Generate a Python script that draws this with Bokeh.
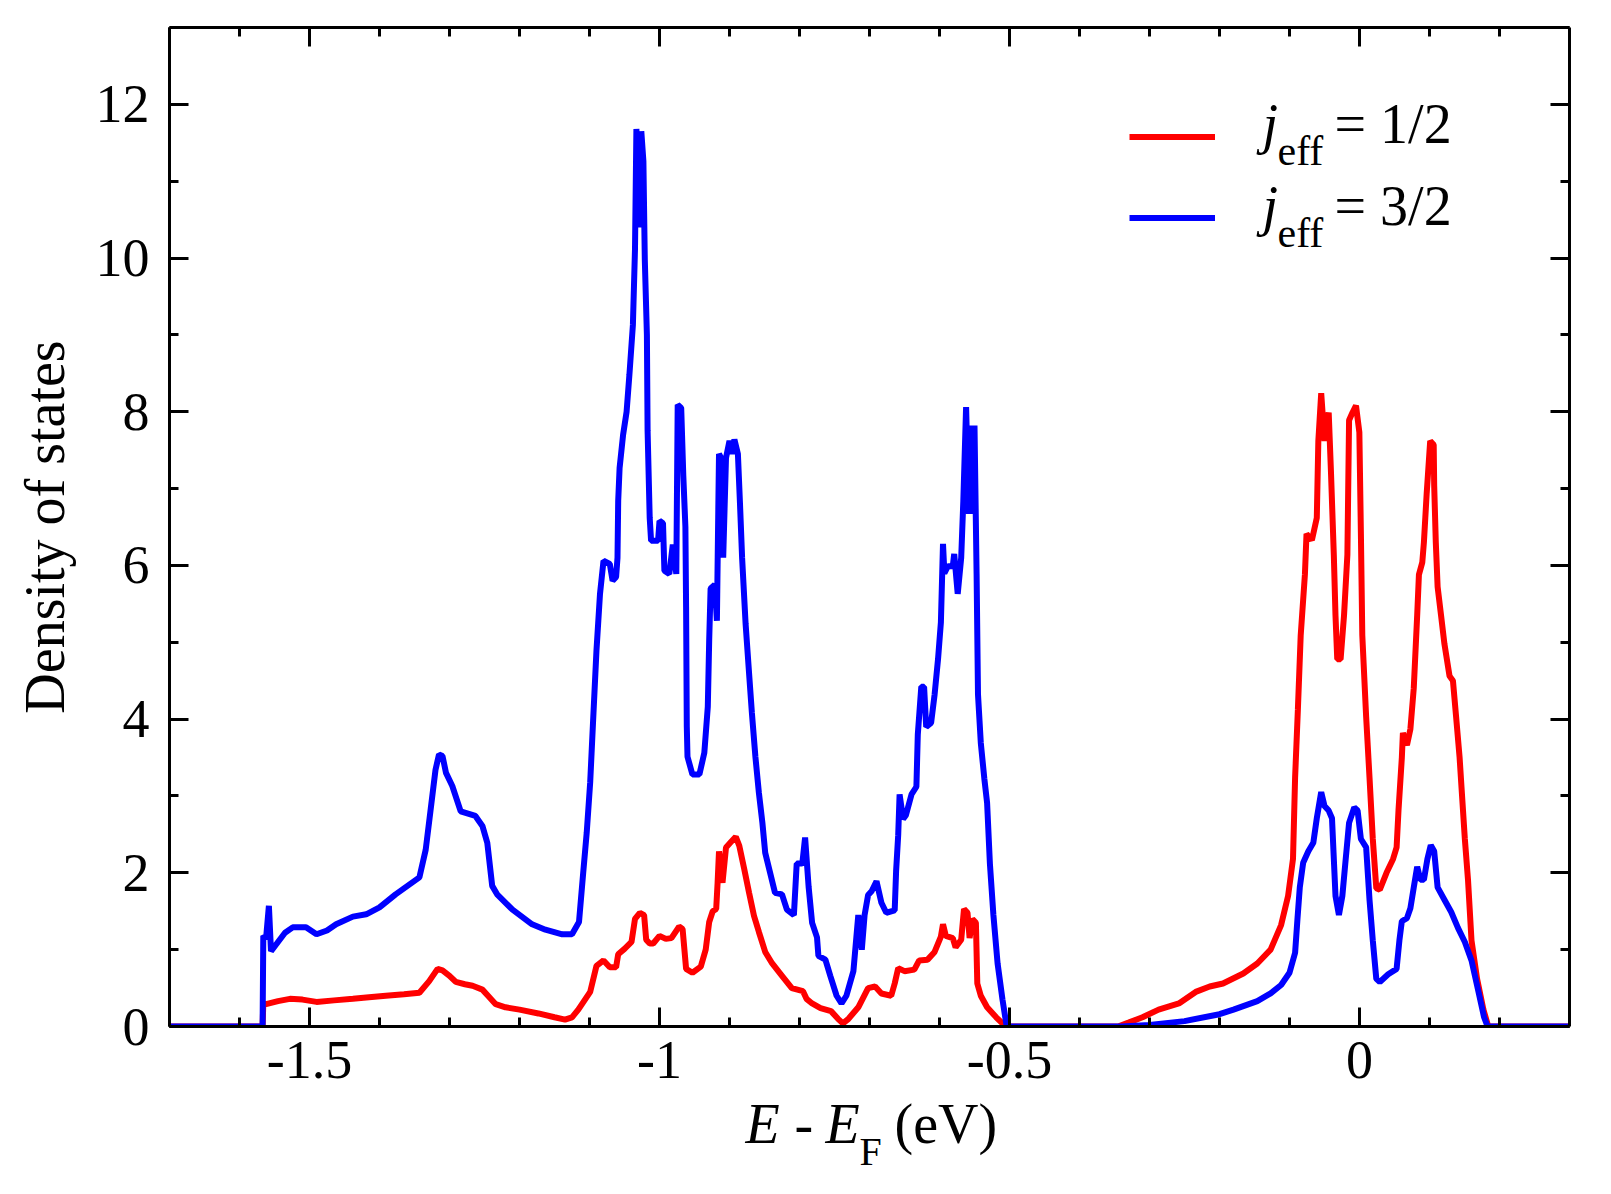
from bokeh.plotting import figure
from bokeh.models import (Range1d, LinearAxis, SingleIntervalTicker, Legend, LegendItem, Label)
from bokeh.core.properties import value
from bokeh.embed import file_html
from bokeh.resources import INLINE

# ---------------- data ----------------
energy_half = [-1.70, -1.567, -1.566, -1.562, -1.545, -1.528, -1.51, -1.49, -1.465, -1.438,
               -1.415, -1.391, -1.365, -1.343, -1.329, -1.317, -1.310, -1.300, -1.291, -1.278,
               -1.267, -1.253, -1.245, -1.234, -1.22, -1.20, -1.173, -1.15, -1.135, -1.125,
               -1.116, -1.099, -1.090, -1.080, -1.071, -1.062, -1.059, -1.050, -1.040, -1.035,
               -1.028, -1.022, -1.019, -1.014, -1.009, -1.000, -0.991, -0.983, -0.972, -0.967,
               -0.962, -0.953, -0.941, -0.934, -0.929, -0.924, -0.919, -0.917, -0.915, -0.910,
               -0.905, -0.898, -0.891, -0.886, -0.879, -0.872, -0.865, -0.858, -0.849, -0.839,
               -0.825, -0.811, -0.795, -0.790, -0.782, -0.770, -0.755, -0.745, -0.738, -0.730,
               -0.716, -0.702, -0.692, -0.683, -0.669, -0.664, -0.659, -0.650, -0.636, -0.629,
               -0.617, -0.607, -0.598, -0.595, -0.591, -0.581, -0.577, -0.569, -0.565, -0.560,
               -0.557, -0.553, -0.548, -0.546, -0.541, -0.532, -0.519, -0.509, -0.504, -0.345,
               -0.330, -0.310, -0.287, -0.258, -0.234, -0.214, -0.195, -0.166, -0.146, -0.127,
               -0.112, -0.102, -0.095, -0.092, -0.088, -0.084, -0.078, -0.0757, -0.068, -0.061,
               -0.0588, -0.0547, -0.050, -0.044, -0.0407, -0.0367, -0.0343, -0.0318, -0.027, -0.0221,
               -0.0173, -0.0149, -0.010, -0.005, -0.0002, 0.002, 0.004, 0.0095, 0.0143, 0.019,
               0.024, 0.029, 0.0386, 0.048, 0.053, 0.0557, 0.0605, 0.062, 0.0678, 0.0727,
               0.0775, 0.0824, 0.0849, 0.0897, 0.092, 0.096, 0.101, 0.106, 0.1067, 0.109,
               0.1116, 0.1165, 0.1213, 0.1286, 0.1335, 0.138, 0.143, 0.1456, 0.1505, 0.155,
               0.160, 0.168, 0.177, 0.184, 0.30]
dos_half = [0.0, 0.0, 0.30, 0.29, 0.33, 0.36, 0.35, 0.32, 0.34, 0.36,
            0.38, 0.40, 0.42, 0.44, 0.59, 0.75, 0.73, 0.66, 0.58, 0.55,
            0.53, 0.48, 0.40, 0.29, 0.25, 0.22, 0.17, 0.12, 0.09, 0.12,
            0.22, 0.45, 0.79, 0.86, 0.77, 0.77, 0.94, 1.01, 1.10, 1.40,
            1.48, 1.45, 1.13, 1.08, 1.08, 1.18, 1.14, 1.15, 1.30, 1.27,
            0.75, 0.70, 0.78, 1.00, 1.36, 1.50, 1.53, 1.87, 2.28, 1.87,
            2.33, 2.40, 2.47, 2.35, 2.05, 1.74, 1.44, 1.23, 0.97, 0.82,
            0.66, 0.50, 0.46, 0.36, 0.30, 0.24, 0.20, 0.10, 0.04, 0.10,
            0.25, 0.50, 0.52, 0.43, 0.40, 0.56, 0.76, 0.72, 0.74, 0.86,
            0.87, 0.97, 1.17, 1.33, 1.18, 1.15, 1.03, 1.13, 1.53, 1.48,
            1.15, 1.40, 1.35, 0.56, 0.40, 0.25, 0.12, 0.03, 0.0, 0.0,
            0.05, 0.12, 0.22, 0.30, 0.45, 0.52, 0.56, 0.69, 0.82, 1.00,
            1.32, 1.70, 2.18, 3.24, 4.13, 5.09, 5.88, 6.41, 6.33, 6.62,
            7.62, 8.24, 7.62, 7.99, 7.20, 6.14, 5.35, 4.78, 4.78, 5.35,
            6.14, 7.89, 7.99, 8.08, 7.73, 6.41, 5.09, 4.03, 3.24, 2.44,
            1.80, 1.78, 2.00, 2.18, 2.33, 2.81, 3.50, 3.82, 3.66, 3.87,
            4.40, 5.35, 5.88, 6.04, 6.30, 6.94, 7.62, 7.57, 7.04, 6.30,
            5.72, 5.35, 4.98, 4.56, 4.50, 4.03, 3.50, 3.13, 2.44, 1.91,
            1.12, 0.62, 0.22, 0.0, 0.0]

energy_three = [-1.70, -1.567, -1.566, -1.562, -1.558, -1.555, -1.545, -1.535, -1.524, -1.505,
                -1.49, -1.475, -1.462, -1.438, -1.419, -1.40, -1.377, -1.343, -1.334, -1.327,
                -1.32, -1.315, -1.310, -1.305, -1.296, -1.284, -1.263, -1.253, -1.246, -1.239,
                -1.232, -1.21, -1.182, -1.163, -1.139, -1.125, -1.115, -1.109, -1.104, -1.099,
                -1.095, -1.090, -1.085, -1.080, -1.071, -1.067, -1.062, -1.060, -1.059, -1.057,
                -1.052, -1.047, -1.043, -1.038, -1.035, -1.033, -1.029, -1.026, -1.023, -1.021,
                -1.018, -1.017, -1.014, -1.012, -1.002, -1.000, -0.995, -0.993, -0.986, -0.981,
                -0.976, -0.974, -0.969, -0.966, -0.963, -0.962, -0.961, -0.960, -0.953, -0.943,
                -0.936, -0.931, -0.929, -0.927, -0.921, -0.918, -0.915, -0.912, -0.909, -0.905,
                -0.900, -0.896, -0.893, -0.888, -0.885, -0.882, -0.877, -0.872, -0.868, -0.863,
                -0.858, -0.853, -0.849, -0.842, -0.835, -0.825, -0.818, -0.808, -0.804, -0.796,
                -0.792, -0.787, -0.782, -0.775, -0.773, -0.763, -0.756, -0.747, -0.740, -0.733,
                -0.723, -0.716, -0.711, -0.707, -0.702, -0.697, -0.690, -0.683, -0.676, -0.664,
                -0.662, -0.659, -0.657, -0.652, -0.648, -0.640, -0.633, -0.631, -0.626, -0.622,
                -0.619, -0.612, -0.607, -0.602, -0.598, -0.595, -0.593, -0.588, -0.581, -0.579,
                -0.574, -0.569, -0.566, -0.562, -0.558, -0.555, -0.551, -0.550, -0.547, -0.545,
                -0.541, -0.536, -0.532, -0.528, -0.523, -0.517, -0.510, -0.504, -0.340, -0.300,
                -0.250, -0.200, -0.180, -0.146, -0.127, -0.112, -0.100, -0.092, -0.0887, -0.0853,
                -0.0805, -0.0731, -0.066, -0.061, -0.0547, -0.050, -0.044, -0.0393, -0.0343, -0.0294,
                -0.0245, -0.0197, -0.0149, -0.0075, -0.0027, 0.002, 0.0095, 0.0143, 0.019, 0.024,
                0.029, 0.041, 0.053, 0.057, 0.0605, 0.0678, 0.0727, 0.0775, 0.0824, 0.087,
                0.092, 0.097, 0.1018, 0.1067, 0.1116, 0.1213, 0.131, 0.1408, 0.1505, 0.160,
                0.170, 0.178, 0.183, 0.30]
dos_three = [0.0, 0.0, 1.18, 1.15, 1.57, 0.98, 1.10, 1.22, 1.29, 1.29,
             1.20, 1.25, 1.33, 1.43, 1.46, 1.55, 1.72, 1.94, 2.30, 2.82,
             3.34, 3.54, 3.52, 3.30, 3.13, 2.80, 2.74, 2.61, 2.39, 1.83,
             1.72, 1.52, 1.33, 1.26, 1.20, 1.20, 1.36, 2.00, 2.52, 3.18,
             3.95, 4.90, 5.63, 6.06, 6.02, 5.80, 5.85, 6.10, 6.84, 7.27,
             7.70, 8.00, 8.48, 9.13, 10.12, 11.68, 10.40, 11.65, 11.26, 9.98,
             9.00, 7.75, 6.62, 6.32, 6.32, 6.58, 6.55, 5.93, 5.89, 6.27,
             5.89, 8.09, 8.05, 7.17, 6.50, 5.46, 3.90, 3.51, 3.28, 3.28,
             3.56, 4.16, 5.03, 5.70, 5.75, 5.28, 7.45, 7.40, 6.10, 7.40,
             7.62, 7.45, 7.64, 7.45, 6.80, 6.10, 5.24, 4.59, 4.08, 3.51,
             3.04, 2.65, 2.26, 2.00, 1.74, 1.72, 1.52, 1.45, 2.12, 2.12,
             2.46, 1.82, 1.35, 1.16, 0.92, 0.87, 0.66, 0.40, 0.30, 0.40,
             0.72, 1.45, 1.00, 1.45, 1.71, 1.76, 1.89, 1.61, 1.48, 1.51,
             2.02, 2.49, 3.02, 2.70, 2.75, 3.02, 3.12, 3.80, 4.42, 4.42,
             3.90, 3.95, 4.32, 4.79, 5.26, 6.28, 5.90, 5.99, 5.99, 6.15,
             5.63, 6.10, 6.83, 8.06, 6.67, 7.82, 6.67, 7.82, 5.89, 4.32,
             3.69, 3.23, 2.91, 2.12, 1.45, 0.82, 0.35, 0.0, 0.0, 0.02,
             0.07, 0.16, 0.22, 0.33, 0.43, 0.54, 0.70, 0.96, 1.39, 1.81,
             2.13, 2.28, 2.39, 2.71, 3.05, 2.87, 2.81, 2.71, 1.70, 1.45,
             1.70, 2.18, 2.65, 2.85, 2.81, 2.44, 2.33, 1.65, 1.12, 0.62,
             0.58, 0.68, 0.75, 1.12, 1.37, 1.41, 1.54, 1.81, 2.08, 1.91,
             1.91, 2.18, 2.36, 2.28, 1.81, 1.65, 1.49, 1.28, 1.10, 0.86,
             0.45, 0.12, 0.0, 0.0]

series_names = ["1/2", "3/2"]
series_colors = ["#ff0000", "#0000ff"]
x_tick_values = [-1.5, -1.0, -0.5, 0.0]
x_tick_labels = ["-1.5", "-1", "-0.5", "0"]
y_label = "Density of states"

# ---------------- layout ----------------
FONT = "Liberation Serif"
X0, X1, Y0, Y1 = -1.7, 0.3, 0.0, 13.0
W, H = 1595, 1178
# frame position in figure pixels
FL, FR, FT, FB = 169, 1569, 27, 1026
LIFT = 0.38   # the text anchor sits this many em below the baseline as drawn


def dx(px):
    return X0 + (px - FL) * (X1 - X0) / (FR - FL)


def dy(py):
    return Y0 + (FB - py) * (Y1 - Y0) / (FB - FT)


def anchor(base, size_px):
    # figure-pixel anchor that puts the drawn baseline at `base`
    return dy(base - LIFT * size_px)


p = figure(width=W, height=H, x_range=Range1d(X0, X1), y_range=Range1d(Y0, Y1),
           output_backend="svg", toolbar_location=None,
           x_axis_type=None, y_axis_type=None,
           min_border_left=FL, min_border_right=W - FR,
           min_border_top=FT, min_border_bottom=H - FB)
p.title.visible = False
p.outline_line_color = None
p.background_fill_color = "white"
p.border_fill_color = "white"


def style_axis(ax, labels):
    ax.axis_line_width = 3
    ax.axis_line_color = "black"
    ax.major_tick_line_width = 3
    ax.minor_tick_line_width = 3
    ax.major_tick_line_color = "black"
    ax.minor_tick_line_color = "black"
    ax.major_tick_in = 19
    ax.major_tick_out = 0
    ax.minor_tick_in = 9
    ax.minor_tick_out = 0
    ax.major_label_text_font = FONT
    if labels:
        ax.major_label_text_font_size = "54px"
        ax.major_label_text_color = "black"
    else:
        ax.major_label_text_font_size = "10px"
        ax.major_label_text_color = None
        ax.major_label_text_alpha = 0
        ax.major_label_standoff = 0


x_overrides = {float(v): s for v, s in zip(x_tick_values, x_tick_labels)}

xb = LinearAxis(ticker=SingleIntervalTicker(interval=0.5, num_minor_ticks=5))
style_axis(xb, True)
xb.major_label_overrides = x_overrides
xb.major_label_standoff = 15
p.add_layout(xb, "below")

xt = LinearAxis(ticker=SingleIntervalTicker(interval=0.5, num_minor_ticks=5))
style_axis(xt, False)
p.add_layout(xt, "above")

yl = LinearAxis(ticker=SingleIntervalTicker(interval=2, num_minor_ticks=2))
style_axis(yl, True)
yl.major_label_standoff = 20
yl.axis_label = y_label
yl.axis_label_text_font = FONT
yl.axis_label_text_font_size = "56px"
yl.axis_label_text_font_style = "normal"
yl.axis_label_text_color = "black"
yl.axis_label_standoff = 17
p.add_layout(yl, "left")

yr = LinearAxis(ticker=SingleIntervalTicker(interval=2, num_minor_ticks=2))
style_axis(yr, False)
p.add_layout(yr, "right")

# ---------------- curves ----------------
r_half = p.line(energy_half, dos_half, line_color=series_colors[0], line_width=6)
r_three = p.line(energy_three, dos_three, line_color=series_colors[1], line_width=6)

# ---------------- legend (sample lines) ----------------
legend = Legend(items=[LegendItem(label=" ", renderers=[r_half]),
                       LegendItem(label=" ", renderers=[r_three])],
                location=(1129 - FL, FB - (96 + 162)),
                glyph_width=86, glyph_height=81, label_height=81, label_width=1,
                spacing=0, padding=0, margin=0, label_standoff=0,
                border_line_color=None, background_fill_alpha=0,
                label_text_font_size="10px", label_text_color=None)
p.add_layout(legend)

# legend texts: j_eff = 1/2, j_eff = 3/2
row_base = [145, 227]
for name, base in zip(series_names, row_base):
    p.add_layout(Label(x=dx(1262), y=anchor(base, 56), text="j", text_font=FONT,
                       text_font_style="italic", text_font_size="56px",
                       text_baseline="alphabetic", text_align="left", text_color="black"))
    p.add_layout(Label(x=dx(1277), y=anchor(base + 21, 42), text="eff", text_font=FONT,
                       text_font_size="42px", text_baseline="alphabetic",
                       text_align="left", text_color="black"))
    p.add_layout(Label(x=dx(1334), y=anchor(base, 56), text="= " + name, text_font=FONT,
                       text_font_size="56px", text_baseline="alphabetic",
                       text_align="left", text_color="black"))

# ---------------- x-axis title: E - E_F (eV), drawn below the frame ----------------
XL_BASE = 1145   # baseline in figure pixels
x_label_parts = [("E", 745, 0, 56, "italic"),
                 ("-", 794, 0, 56, "normal"),
                 ("E", 825, 0, 56, "italic"),
                 ("F", 859, 21, 40, "normal"),
                 ("(eV)", 894, 0, 56, "normal")]
for txt, px, off, size, style in x_label_parts:
    p.text(x=[dx(px)], y=[anchor(XL_BASE + off, size)], text=[txt], text_font=value(FONT),
           text_font_style=style, text_font_size=f"{size}px", text_color="black",
           text_baseline="alphabetic", text_align="left", level="overlay")

open("out.html", "w").write(file_html(p, INLINE))
